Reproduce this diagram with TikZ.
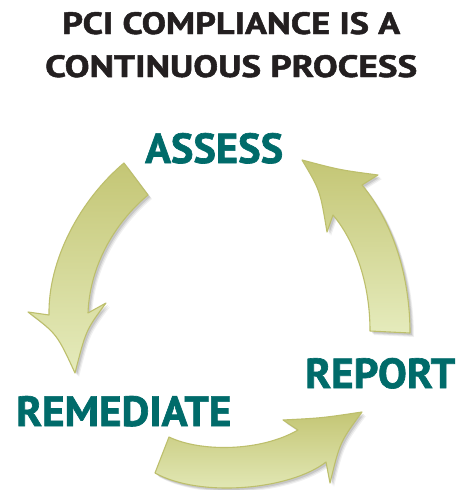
\documentclass[tikz,border=0pt]{standalone}
\usepackage{fontspec}
\setmainfont{PT Sans}
\newfontfamily\heavyfont{PT Sans}[BoldFeatures={FakeBold=1.5}]
\definecolor{titlecol}{HTML}{231F20}
\definecolor{tealcol}{HTML}{006B6A}
\definecolor{arrowtop}{HTML}{C4C675}
\definecolor{arrowbot}{HTML}{E5EBBC}
\definecolor{arrowedge}{HTML}{BDBF6C}
\tikzset{
  titletext/.style={anchor=base west, inner sep=0pt, text=titlecol, font=\heavyfont\bfseries},
  steptext/.style={anchor=base west, inner sep=0pt, text=tealcol, font=\heavyfont\bfseries},
  arrowbody/.style={top color=arrowtop, bottom color=arrowbot, draw=arrowedge, line width=1.1pt, line join=round},
  shadowbody/.style={fill=black, opacity=#1},
}
\def\leftarr{(124,163) -- (148,195) .. controls (118,220) and (90,262) .. (88,313)
  -- (106,303) .. controls (86,330) .. (75,373) .. controls (57,334) .. (28,312)
  -- (49,315) .. controls (48,260) and (80,200) .. (124,163) -- cycle}
\def\rightarr{(370,331) -- (410,333) .. controls (410,280) and (395,225) .. (362,185)
  -- (378,175) .. controls (340,170) .. (302,160) .. controls (320,190) .. (327,232)
  -- (333,215) .. controls (350,235) and (370,275) .. (370,331) -- cycle}
\def\bottomarr{(169,437) .. controls (200,452) and (260,452) .. (298,430)
  -- (283,420) .. controls (322,418) .. (362,412) .. controls (340,442) .. (330,483)
  -- (326,462) .. controls (290,490) and (200,498) .. (155,473) -- cycle}
\begin{document}
\begin{tikzpicture}[x=1pt,y=-1pt]
\useasboundingbox (0,0) rectangle (468,490);
\fill[white] (0,0) rectangle (468,490);
% shadows
\foreach \o/\a in {4/0.06,3/0.08,2/0.10}{
  \begin{scope}[shift={(\o,\o)}]
    \fill[shadowbody=\a] \leftarr;
    \fill[shadowbody=\a] \rightarr;
    \fill[shadowbody=\a] \bottomarr;
  \end{scope}
}
% arrows
\path[arrowbody] \leftarr;
\path[arrowbody] \rightarr;
\path[arrowbody] \bottomarr;
% titles
\node[titletext] (title1) at (62,34) {\resizebox{338pt}{22pt}{PCI COMPLIANCE IS A}};
\node[titletext] (title2) at (45,77) {\resizebox{372pt}{22pt}{CONTINUOUS PROCESS}};
% step labels
\node[steptext] (assess) at (145,163) {\resizebox{138pt}{30pt}{ASSESS}};
\node[steptext] (report) at (305,388) {\resizebox{150pt}{30pt}{REPORT}};
\node[steptext] (remediate) at (16,426) {\resizebox{215pt}{30pt}{REMEDIATE}};
\end{tikzpicture}
\end{document}
